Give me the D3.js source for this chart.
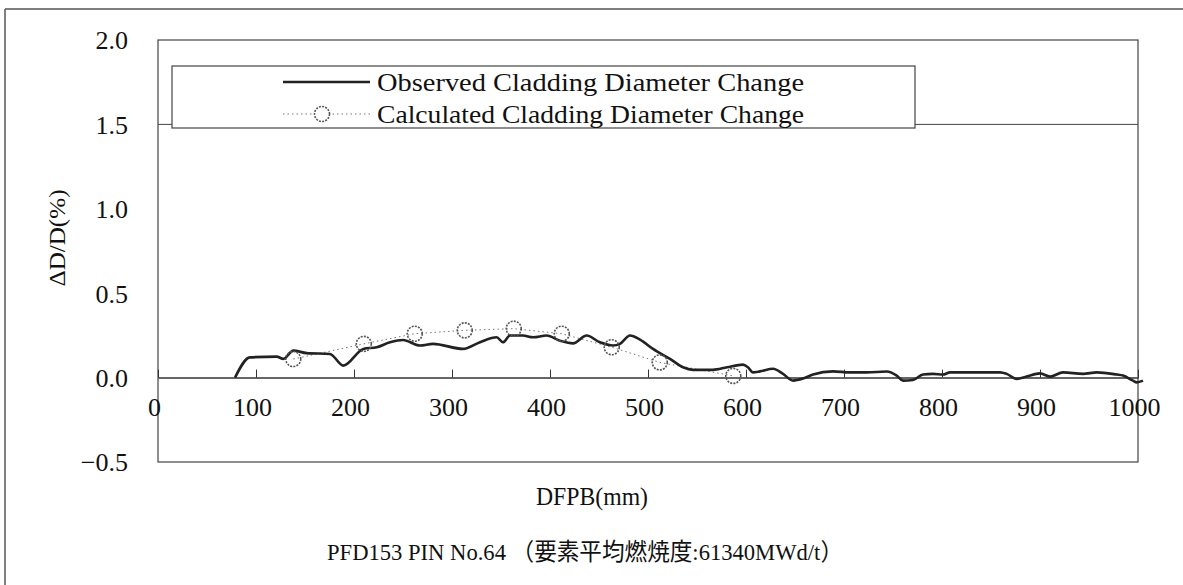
<!DOCTYPE html>
<html>
<head>
<meta charset="utf-8">
<script src="https://cdn.jsdelivr.net/npm/d3@7"></script>
<style>
  html, body { margin: 0; padding: 0; background: #fff; }
  svg { display: block; }
  text { font-family: "Liberation Serif", "Noto Sans CJK JP", serif; fill: #111; }
</style>
</head>
<body>
<svg id="chart" width="1183" height="585"></svg>
<script>
// ---- Data ----
const obsX = [78.6, 93.9, 121.1, 127.9, 138.1, 151.7, 175.5, 189.1, 209.5, 223.2, 236.7, 250, 267.3, 280.6, 311.2, 328.6, 345.6, 352, 359.2, 372.4, 382.7, 396.6, 410.2, 423.5, 437.4, 451, 464.3, 471.4, 481.6, 491.8, 505.1, 522.4, 535.7, 545.9, 566.3, 580.6, 596.9, 602, 607.1, 614.3, 627.6, 637.8, 648, 658.2, 668.4, 688.8, 706.1, 723.2, 743.6, 753.8, 760.2, 770.4, 780.6, 790.8, 801, 808.2, 859.2, 866, 876.2, 886.4, 900, 910.2, 923.5, 943.9, 957.9, 978.3, 984.7, 994.9, 998.7, 1005.1];
const obsY = [0.00, 0.120, 0.124, 0.111, 0.160, 0.145, 0.140, 0.071, 0.170, 0.180, 0.209, 0.223, 0.190, 0.200, 0.170, 0.210, 0.239, 0.209, 0.249, 0.249, 0.239, 0.249, 0.219, 0.203, 0.249, 0.209, 0.190, 0.200, 0.249, 0.225, 0.170, 0.111, 0.061, 0.046, 0.046, 0.061, 0.077, 0.061, 0.031, 0.037, 0.052, 0.022, -0.018, -0.006, 0.018, 0.037, 0.031, 0.031, 0.036, 0.012, -0.018, -0.014, 0.018, 0.022, 0.018, 0.031, 0.031, 0.022, -0.008, 0.006, 0.025, 0.006, 0.031, 0.022, 0.031, 0.018, 0.012, -0.018, -0.028, -0.018];
const calcX = [138, 210, 262, 313, 363, 412, 463, 512, 587];
const calcY = [0.11, 0.20, 0.26, 0.28, 0.29, 0.26, 0.18, 0.09, 0.01];
const xTicks = [0, 100, 200, 300, 400, 500, 600, 700, 800, 900, 1000];
const yTicks = [-0.5, 0.0, 0.5, 1.0, 1.5, 2.0];
const gridValues = [1.5];
const seriesNames = ["Observed Cladding Diameter Change", "Calculated Cladding Diameter Change"];
const xTitle = "DFPB(mm)";
const yTitle = "ΔD/D(%)";
const chartTitle = "PFD153 PIN No.64 （要素平均燃焼度:61340MWd/t）";

// ---- Drawing ----
const svg = d3.select("#chart");
const pLeft = 158, pRight = 1138, pTop = 40, pBottom = 462;
const x = d3.scaleLinear().domain([0, 1000]).range([pLeft, pRight]);
const y = d3.scaleLinear().domain([-0.5, 2.0]).range([pBottom, pTop]);

// outer frame (top and left edges visible)
svg.append("line").attr("x1", 5).attr("x2", 1183).attr("y1", 9).attr("y2", 9)
  .attr("stroke", "#555").attr("stroke-width", 1.5);
svg.append("line").attr("x1", 5).attr("x2", 5).attr("y1", 9).attr("y2", 585)
  .attr("stroke", "#555").attr("stroke-width", 1.5);

// gridline
svg.append("g").selectAll("line").data(gridValues).join("line")
  .attr("x1", pLeft).attr("x2", pRight)
  .attr("y1", d => y(d)).attr("y2", d => y(d))
  .attr("stroke", "#444").attr("stroke-width", 1);

// plot border
svg.append("rect").attr("x", pLeft).attr("y", pTop)
  .attr("width", pRight - pLeft).attr("height", pBottom - pTop)
  .attr("fill", "none").attr("stroke", "#444").attr("stroke-width", 1.2);

// x axis along zero line
const xAxis = d3.axisBottom(x).tickValues(xTicks).tickFormat(d3.format("d"))
  .tickSizeInner(-8).tickSizeOuter(0).tickPadding(20);
const gx = svg.append("g").attr("transform", `translate(0,${y(0)})`).call(xAxis);
gx.select(".domain").attr("stroke", "#333").attr("stroke-width", 1.5);
gx.selectAll(".tick line").attr("stroke", "#333").attr("stroke-width", 1);
gx.selectAll(".tick text").attr("font-size", 26).attr("font-family", "Liberation Serif")
  .attr("fill", "#111").attr("dx", -4);

// y axis
const yAxis = d3.axisLeft(y).tickValues(yTicks).tickFormat(d3.format(".1f"))
  .tickSize(0).tickPadding(30);
const gy = svg.append("g").attr("transform", `translate(${pLeft},0)`).call(yAxis);
gy.select(".domain").remove();
gy.selectAll(".tick text").attr("font-size", 26).attr("font-family", "Liberation Serif")
  .attr("fill", "#111").attr("dy", "0.34em");

// calculated series
const calcData = calcX.map((v, i) => [v, calcY[i]]);
svg.append("path").datum(calcData)
  .attr("d", d3.line().x(d => x(d[0])).y(d => y(d[1])))
  .attr("fill", "none").attr("stroke", "#777").attr("stroke-width", 1)
  .attr("stroke-dasharray", "1.5,3");

// observed series
const obsData = obsX.map((v, i) => [v, obsY[i]]);
svg.append("path").datum(obsData)
  .attr("d", d3.line().x(d => x(d[0])).y(d => y(d[1])).curve(d3.curveMonotoneX))
  .attr("fill", "none").attr("stroke", "#222").attr("stroke-width", 2.6)
  .attr("stroke-linejoin", "round");

svg.append("g").selectAll("circle").data(calcData).join("circle")
  .attr("cx", d => x(d[0])).attr("cy", d => y(d[1])).attr("r", 7.5)
  .attr("fill", "none").attr("stroke", "#555").attr("stroke-width", 1.6)
  .attr("stroke-dasharray", "2,1.2");

// legend
const lg = svg.append("g");
lg.append("rect").attr("x", 172).attr("y", 66).attr("width", 743).attr("height", 62)
  .attr("fill", "#fff").attr("stroke", "#444").attr("stroke-width", 1.2);
lg.append("line").attr("x1", 283).attr("x2", 370).attr("y1", 82).attr("y2", 82)
  .attr("stroke", "#222").attr("stroke-width", 2.6);
lg.append("line").attr("x1", 283).attr("x2", 370).attr("y1", 114).attr("y2", 114)
  .attr("stroke", "#777").attr("stroke-width", 1).attr("stroke-dasharray", "1.5,3");
lg.append("circle").attr("cx", 322).attr("cy", 114).attr("r", 7.5)
  .attr("fill", "#fff").attr("stroke", "#555").attr("stroke-width", 1.6)
  .attr("stroke-dasharray", "2,1.2");
lg.selectAll("text.lab").data(seriesNames).join("text").attr("class", "lab")
  .attr("x", 377).attr("y", (d, i) => 82 + i * 32).attr("dy", "0.35em")
  .attr("font-size", 25).attr("textLength", 427).attr("lengthAdjust", "spacingAndGlyphs")
  .text(d => d);

// titles
svg.append("text").attr("x", 592).attr("y", 496).attr("dy", "0.35em")
  .attr("text-anchor", "middle").attr("font-size", 25)
  .attr("textLength", 112).attr("lengthAdjust", "spacingAndGlyphs").text(xTitle);
svg.append("text").attr("transform", "translate(57,238) rotate(-90)")
  .attr("text-anchor", "middle").attr("dy", "0.35em").attr("font-size", 24)
  .attr("textLength", 97).attr("lengthAdjust", "spacingAndGlyphs").text(yTitle);
svg.append("text").attr("x", 585).attr("y", 552).attr("dy", "0.35em")
  .attr("text-anchor", "middle").attr("font-size", 24)
  .attr("textLength", 516).attr("lengthAdjust", "spacingAndGlyphs").text(chartTitle);
</script>
</body>
</html>
